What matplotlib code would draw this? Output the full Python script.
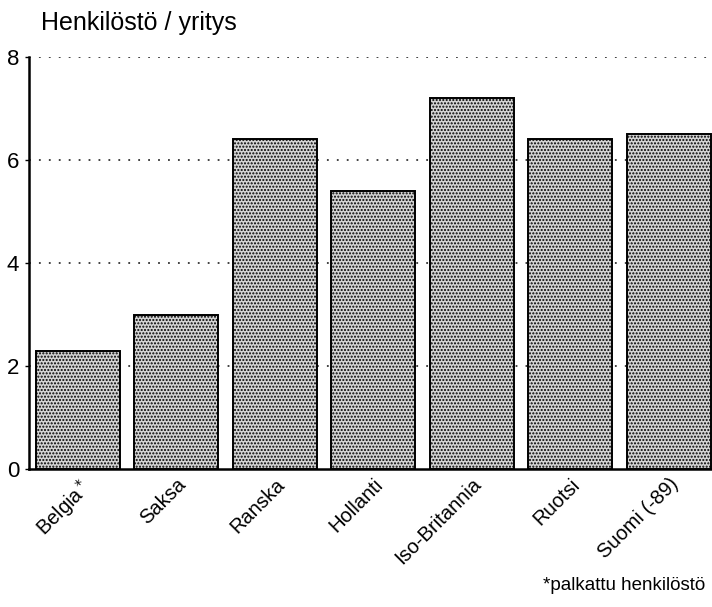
import matplotlib.pyplot as plt
import matplotlib as mpl

# Henkilöstö / yritys, maittain
maat = ['Belgia$^*$', 'Saksa', 'Ranska', 'Hollanti', 'Iso-Britannia', 'Ruotsi', 'Suomi (-89)']
henkilosto = [2.3, 3.0, 6.4, 5.4, 7.2, 6.4, 6.5]
yticks = [0, 2, 4, 6, 8]

mpl.rcParams['font.family'] = ['Liberation Sans', 'DejaVu Sans']
mpl.rcParams['hatch.linewidth'] = 1.0
mpl.rcParams['hatch.color'] = '#555555'

fig = plt.figure(figsize=(7.12, 6.07), dpi=100)
ax = fig.add_axes([0.0407, 0.2273, 0.9593, 0.6787])

x = range(len(maat))
ax.bar(x, henkilosto, width=0.855, facecolor='#d4d4d4', edgecolor='black',
       linewidth=1.4, hatch='.....', zorder=3)

for yv in yticks[1:]:
    ax.axhline(yv, color='#333333', linestyle=(0, (1, 4.5)), linewidth=1.3, zorder=1)

ax.set_xlim(-0.497, 6.44)
ax.set_ylim(0, 8)
ax.set_yticks(yticks)
ax.set_yticklabels([str(v) for v in yticks], fontsize=16)
ax.tick_params(axis='y', length=3, width=1, pad=4)
ax.tick_params(axis='x', length=0, pad=4)
ax.set_xticks(list(x))
ax.set_xticklabels(maat, rotation=45, ha='right', va='top', rotation_mode='anchor', fontsize=14.5)

for s in ['top', 'right']:
    ax.spines[s].set_visible(False)
ax.spines['left'].set_linewidth(1.8)
ax.spines['bottom'].set_linewidth(1.8)

fig.text(0.058, 0.962, 'Henkilöstö / yritys', fontsize=18, ha='left', va='center')
fig.text(0.99, 0.036, '*palkattu henkilöstö', fontsize=13.5, ha='right', va='center')

fig.savefig('out.png', dpi=100)
